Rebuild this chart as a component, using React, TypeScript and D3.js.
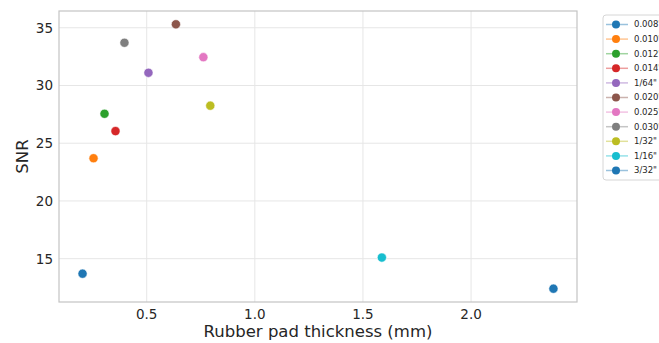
import React from 'react';
import * as d3 from 'd3';

// pad labels as printed in the legend
const labels = ['0.008"', '0.010"', '0.012"', '0.014"', '1/64"', '0.020"', '0.025"', '0.030"', '1/32"', '1/16"', '3/32"'];
// x: thickness in mm, y: SNR
const thickness = [0.2032, 0.254, 0.3048, 0.3556, 0.508, 0.635, 0.762, 0.397, 0.794, 1.5875, 2.381];
const snr = [13.7, 23.7, 27.55, 26.05, 31.1, 35.3, 32.45, 33.7, 28.25, 15.1, 12.4];
const colors = ['#1f77b4', '#ff7f0e', '#2ca02c', '#d62728', '#9467bd', '#8c564b', '#e377c2', '#7f7f7f', '#bcbd22', '#17becf', '#1f77b4'];
const xTicks = [0.5, 1.0, 1.5, 2.0];
const yTicks = [15, 20, 25, 30, 35];

const W = 659;
const H = 343;
const m = { left: 59, right: 577, top: 11, bottom: 302 };
const font = 'DejaVu Sans, sans-serif';

export default () => {
  const x = d3.scaleLinear().domain([0.0943, 2.49]).range([m.left, m.right]);
  const y = d3.scaleLinear().domain([11.25, 36.45]).range([m.bottom, m.top]);

  const legX = 603;
  const legY = 15;
  const rowH = 14.6;

  return (
    <svg width={W} height={H} style={{ position: 'absolute', left: 0, top: 0, background: '#fff' }}>
      {/* grid */}
      {xTicks.map(t => (
        <line key={'gx' + t} x1={x(t)} x2={x(t)} y1={m.top} y2={m.bottom} stroke="#e6e6e6" strokeWidth={1} />
      ))}
      {yTicks.map(t => (
        <line key={'gy' + t} x1={m.left} x2={m.right} y1={y(t)} y2={y(t)} stroke="#e6e6e6" strokeWidth={1} />
      ))}
      <rect x={m.left} y={m.top} width={m.right - m.left} height={m.bottom - m.top} fill="none" stroke="#c4c4c4" strokeWidth={1.2} />

      {/* tick labels */}
      {xTicks.map(t => (
        <text key={'tx' + t} x={x(t)} y={319} textAnchor="middle" fontFamily={font} fontSize={13.5} fill="#262626">
          {t.toFixed(1)}
        </text>
      ))}
      {yTicks.map(t => (
        <text key={'ty' + t} x={53} y={y(t)} dy="0.36em" textAnchor="end" fontFamily={font} fontSize={13.5} fill="#262626">
          {t}
        </text>
      ))}

      {/* axis titles */}
      <text x={(m.left + m.right) / 2} y={337} textAnchor="middle" fontFamily={font} fontSize={16.5} fill="#262626">
        Rubber pad thickness (mm)
      </text>
      <text transform={`translate(28, ${(m.top + m.bottom) / 2}) rotate(-90)`} textAnchor="middle" fontFamily={font} fontSize={16.5} fill="#262626">
        SNR
      </text>

      {/* points */}
      {snr.map((v, i) => (
        <circle key={'p' + i} cx={x(thickness[i])} cy={y(v)} r={4.6} fill={colors[i]} stroke="#fff" strokeWidth={0.6} />
      ))}

      {/* legend */}
      <rect x={legX} y={legY} width={70} height={165} rx={3} fill="#fff" stroke="#d6d6d6" strokeWidth={1} />
      {labels.map((l, i) => {
        const cy = legY + 9.5 + i * rowH;
        return (
          <g key={'l' + i}>
            <line x1={legX + 3} x2={legX + 25} y1={cy} y2={cy} stroke={colors[i]} strokeOpacity={0.45} strokeWidth={1.5} />
            <circle cx={legX + 13} cy={cy} r={4} fill={colors[i]} />
            <text x={legX + 31} y={cy} dy="0.35em" fontFamily={font} fontSize={8.5} fill="#262626">
              {l}
            </text>
          </g>
        );
      })}
    </svg>
  );
};
